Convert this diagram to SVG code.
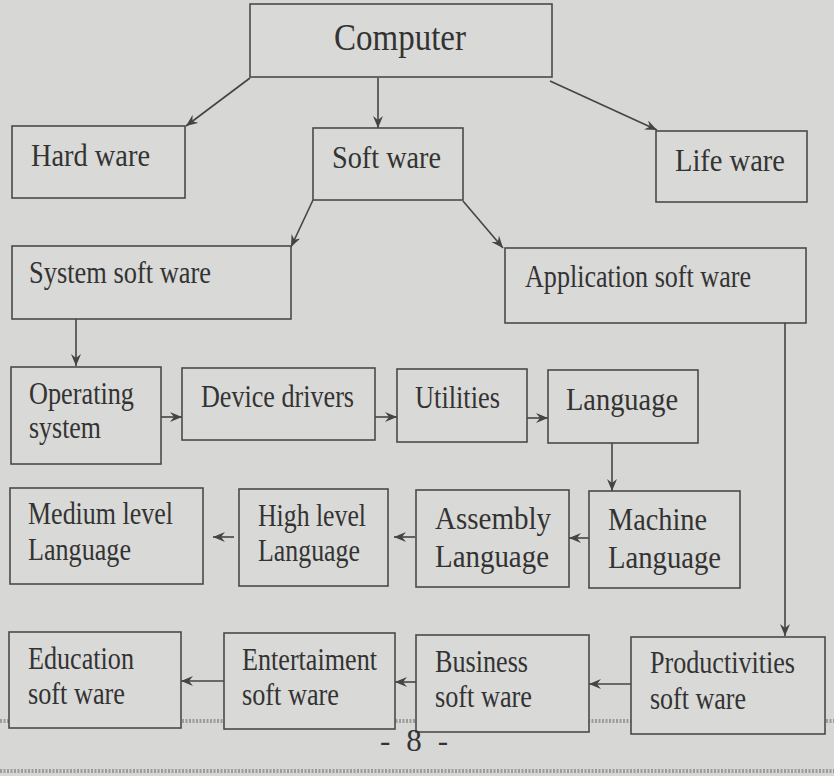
<svg xmlns="http://www.w3.org/2000/svg" width="834" height="776" viewBox="0 0 834 776">
<style>
.bg{fill:#d7d7d5}
.box{fill:#d9d9d7;stroke:#4a4a4a;stroke-width:1.6}
.t{font-family:"Liberation Serif","Times New Roman",serif;font-size:31px;fill:#333}
.big{font-size:38px}
.c line{stroke:#444;stroke-width:1.6;marker-end:url(#ah)}
.rule{stroke:#9c9c9a;stroke-width:4;stroke-dasharray:2 1.5}
</style>
<defs>
<marker id="ah" markerUnits="userSpaceOnUse" markerWidth="14" markerHeight="12" refX="12" refY="5" orient="auto">
<path d="M0,0 L12,5 L0,10 L4,5 Z" fill="#444"/>
</marker>
</defs>
<rect class="bg" x="0" y="0" width="834" height="776"/>
<line class="rule" x1="0" y1="721" x2="834" y2="721"/>
<line class="rule" x1="0" y1="771" x2="834" y2="771"/>
<g id="connectors" class="c">
<line x1="250" y1="78" x2="186" y2="126"/>
<line x1="378" y1="78" x2="378" y2="128"/>
<line x1="550" y1="81" x2="657" y2="130"/>
<line x1="313" y1="200" x2="291" y2="247"/>
<line x1="463" y1="201" x2="503" y2="248"/>
<line x1="76" y1="319" x2="76" y2="366"/>
<line x1="785" y1="323" x2="785" y2="636"/>
<line x1="161" y1="417" x2="182" y2="417"/>
<line x1="375" y1="417" x2="397" y2="417"/>
<line x1="527" y1="418" x2="548" y2="418"/>
<line x1="612" y1="443" x2="612" y2="491"/>
<line x1="589" y1="538" x2="569" y2="538"/>
<line x1="415" y1="537" x2="394" y2="537"/>
<line x1="234" y1="537" x2="213" y2="537"/>
<line x1="631" y1="684" x2="589" y2="684"/>
<line x1="416" y1="682" x2="395" y2="682"/>
<line x1="224" y1="681" x2="181" y2="681"/>
</g>
<g id="computer"><rect class="box" x="250" y="4" width="302" height="73"/><text class="t big" x="334" y="50" textLength="132" lengthAdjust="spacingAndGlyphs">Computer</text></g>
<g id="hardware"><rect class="box" x="12" y="126" width="173" height="72"/><text class="t" x="31" y="166" textLength="119" lengthAdjust="spacingAndGlyphs">Hard ware</text></g>
<g id="software"><rect class="box" x="313" y="128" width="150" height="72"/><text class="t" x="332" y="168" textLength="109" lengthAdjust="spacingAndGlyphs">Soft ware</text></g>
<g id="lifeware"><rect class="box" x="656" y="131" width="151" height="71"/><text class="t" x="675" y="171" textLength="110" lengthAdjust="spacingAndGlyphs">Life ware</text></g>
<g id="system"><rect class="box" x="12" y="246" width="279" height="73"/><text class="t" x="29" y="283" textLength="182" lengthAdjust="spacingAndGlyphs">System soft ware</text></g>
<g id="application"><rect class="box" x="505" y="248" width="301" height="75"/><text class="t" x="525" y="287" textLength="226" lengthAdjust="spacingAndGlyphs">Application soft ware</text></g>
<g id="operating"><rect class="box" x="11" y="367" width="150" height="97"/><text class="t" x="29" y="404" textLength="105" lengthAdjust="spacingAndGlyphs">Operating</text><text class="t" x="29" y="438" textLength="72" lengthAdjust="spacingAndGlyphs">system</text></g>
<g id="device"><rect class="box" x="182" y="368" width="193" height="72"/><text class="t" x="201" y="407" textLength="153" lengthAdjust="spacingAndGlyphs">Device drivers</text></g>
<g id="utilities"><rect class="box" x="397" y="369" width="130" height="73"/><text class="t" x="415" y="408" textLength="85" lengthAdjust="spacingAndGlyphs">Utilities</text></g>
<g id="language"><rect class="box" x="548" y="370" width="150" height="73"/><text class="t" x="566" y="410" textLength="112" lengthAdjust="spacingAndGlyphs">Language</text></g>
<g id="medium"><rect class="box" x="10" y="488" width="193" height="96"/><text class="t" x="28" y="524" textLength="145" lengthAdjust="spacingAndGlyphs">Medium level</text><text class="t" x="28" y="560" textLength="103" lengthAdjust="spacingAndGlyphs">Language</text></g>
<g id="high"><rect class="box" x="239" y="489" width="149" height="97"/><text class="t" x="258" y="526" textLength="108" lengthAdjust="spacingAndGlyphs">High level</text><text class="t" x="258" y="561" textLength="102" lengthAdjust="spacingAndGlyphs">Language</text></g>
<g id="assembly"><rect class="box" x="416" y="490" width="153" height="97"/><text class="t" x="435" y="529" textLength="116" lengthAdjust="spacingAndGlyphs">Assembly</text><text class="t" x="435" y="567" textLength="114" lengthAdjust="spacingAndGlyphs">Language</text></g>
<g id="machine"><rect class="box" x="589" y="491" width="151" height="97"/><text class="t" x="608" y="530" textLength="99" lengthAdjust="spacingAndGlyphs">Machine</text><text class="t" x="608" y="568" textLength="113" lengthAdjust="spacingAndGlyphs">Language</text></g>
<g id="education"><rect class="box" x="9" y="632" width="172" height="96"/><text class="t" x="28" y="669" textLength="106" lengthAdjust="spacingAndGlyphs">Education</text><text class="t" x="28" y="704" textLength="97" lengthAdjust="spacingAndGlyphs">soft ware</text></g>
<g id="entertainment"><rect class="box" x="224" y="633" width="171" height="96"/><text class="t" x="242" y="670" textLength="135" lengthAdjust="spacingAndGlyphs">Entertaiment</text><text class="t" x="242" y="705" textLength="97" lengthAdjust="spacingAndGlyphs">soft ware</text></g>
<g id="business"><rect class="box" x="416" y="635" width="173" height="97"/><text class="t" x="435" y="672" textLength="93" lengthAdjust="spacingAndGlyphs">Business</text><text class="t" x="435" y="707" textLength="97" lengthAdjust="spacingAndGlyphs">soft ware</text></g>
<g id="productivities"><rect class="box" x="631" y="637" width="194" height="97"/><text class="t" x="650" y="673" textLength="145" lengthAdjust="spacingAndGlyphs">Productivities</text><text class="t" x="650" y="709" textLength="96" lengthAdjust="spacingAndGlyphs">soft ware</text></g>
<text class="t" x="380" y="751" textLength="68" lengthAdjust="spacing">- 8 -</text>
</svg>
